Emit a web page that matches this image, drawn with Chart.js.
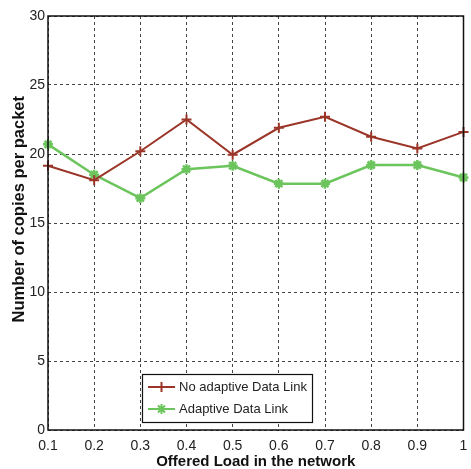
<!DOCTYPE html>
<html>
<head>
<meta charset="utf-8">
<script src="https://cdn.jsdelivr.net/npm/chart.js@4/dist/chart.umd.min.js"></script>
<style>
  html, body { margin: 0; padding: 0; background: #fff; }
  #wrap { position: relative; width: 471px; height: 469px; }
</style>
</head>
<body>
<div id="wrap"><canvas id="myChart" width="471" height="469"></canvas></div>
<script>
// valores
var cargas = ['0.1', '0.2', '0.3', '0.4', '0.5', '0.6', '0.7', '0.8', '0.9', '1'];
var sinAdaptativo = [19.15, 18.1, 20.2, 22.5, 19.95, 21.9, 22.7, 21.25, 20.4, 21.6];
var adaptativo = [20.7, 18.5, 16.8, 18.9, 19.15, 17.85, 17.85, 19.2, 19.2, 18.3];
var yTicks = [0, 5, 10, 15, 20, 25, 30];

var fuente = "'Liberation Sans', Arial, sans-serif";
var rojo = '#9b3528';
var verde = '#6cc55c';

// marco negro + leyenda dentro del area
var marcoLeyenda = {
    id: 'marcoLeyenda',
    afterDraw: function(chart){
        var ctx = chart.ctx;
        var a = chart.chartArea;
        ctx.save();
        ctx.strokeStyle = '#111';
        ctx.lineWidth = 1.5;
        ctx.setLineDash([]);
        ctx.strokeRect(a.left, a.top, a.right - a.left, a.bottom - a.top);

        // leyenda
        var bx = 142.5, by = 374.5, bw = 170, bh = 48;
        ctx.fillStyle = '#fff';
        ctx.fillRect(bx, by, bw, bh);
        ctx.lineWidth = 1.2;
        ctx.strokeRect(bx, by, bw, bh);
        var filas = [387, 409];
        chart.data.datasets.forEach(function(ds, i){
            var y = filas[i];
            ctx.strokeStyle = ds.borderColor;
            ctx.lineWidth = 2;
            ctx.beginPath();
            ctx.moveTo(148, y);
            ctx.lineTo(175, y);
            ctx.stroke();
            Chart.helpers.drawPoint(ctx, {
                pointStyle: ds.pointStyle,
                radius: ds.pointRadius,
                borderWidth: ds.pointBorderWidth,
                rotation: 0
            }, 161.5, y);
            ctx.fillStyle = '#222';
            ctx.font = '13px ' + fuente;
            ctx.textBaseline = 'middle';
            ctx.textAlign = 'left';
            ctx.fillText(ds.label, 179, y);
        });
        ctx.restore();
    }
};

var ctx = document.getElementById('myChart').getContext('2d');
var myChart = new Chart(ctx, {
    type: 'line',
    data: {
        labels: cargas,
        datasets: [{
            label: 'No adaptive Data Link',
            data: sinAdaptativo,
            borderColor: rojo,
            backgroundColor: rojo,
            borderWidth: 2,
            pointStyle: 'cross',
            pointRadius: 5,
            pointBorderWidth: 2,
            tension: 0
        }, {
            label: 'Adaptive Data Link',
            data: adaptativo,
            borderColor: verde,
            backgroundColor: verde,
            borderWidth: 2.5,
            pointStyle: 'star',
            pointRadius: 5,
            pointBorderWidth: 2.5,
            tension: 0
        }]
    },
    options: {
        responsive: false,
        animation: false,
        layout: { padding: { top: 16, right: 3, left: 0, bottom: 0 } },
        plugins: {
            legend: { display: false },
            tooltip: { enabled: false }
        },
        scales: {
            x: {
                offset: false,
                grid: { color: '#444', lineWidth: 1, drawTicks: false },
                border: { display: false, dash: [3, 3] },
                ticks: {
                    color: '#222',
                    padding: 8,
                    maxRotation: 0,
                    autoSkip: false,
                    font: { family: fuente, size: 14 }
                },
                title: {
                    display: true,
                    text: 'Offered Load in the network',
                    color: '#111',
                    font: { family: fuente, size: 15, weight: 'bold', lineHeight: 1 },
                    padding: { top: 0, bottom: 0 }
                },
                afterFit: function(scale){
                    scale.height = 39;
                    scale.paddingLeft = 0;
                    scale.paddingRight = 0;
                }
            },
            y: {
                min: 0,
                max: 30,
                afterBuildTicks: function(scale){
                    scale.ticks = yTicks.map(function(v){ return { value: v }; });
                },
                grid: { color: '#444', lineWidth: 1, drawTicks: false },
                border: { display: false, dash: [3, 3] },
                ticks: {
                    color: '#222',
                    padding: 3,
                    font: { family: fuente, size: 14 }
                },
                title: {
                    display: true,
                    text: '      Number of copies per packet',
                    color: '#111',
                    font: { family: fuente, size: 16.5, weight: 'bold', lineHeight: 1 },
                    padding: { top: 11, bottom: 0 }
                },
                afterFit: function(scale){
                    scale.width = 48;
                    scale.paddingTop = 0;
                    scale.paddingBottom = 0;
                }
            }
        }
    },
    plugins: [marcoLeyenda]
});
</script>
</body>
</html>
